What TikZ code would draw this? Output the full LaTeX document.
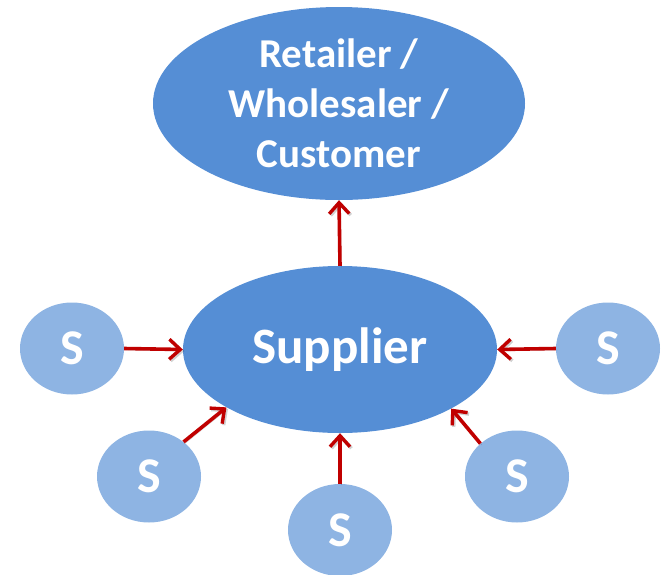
\documentclass[tikz,border=0pt]{standalone}
\usepackage{fontspec}
\setmainfont{Carlito}
\usetikzlibrary{arrows.meta,shapes.geometric}
\definecolor{bigblue}{HTML}{558ED5}
\definecolor{smallblue}{HTML}{8EB4E3}
\definecolor{arrowred}{HTML}{C00000}
\tikzset{
  bignode/.style={ellipse, fill=bigblue, inner sep=0pt, text=white, font=\bfseries},
  snode/.style={ellipse, fill=smallblue, minimum width=104pt, minimum height=92pt, inner sep=0pt, text=white, font=\bfseries\fontsize{50}{50}\selectfont},
  flow/.style={draw=arrowred, line width=3.6pt, -{Straight Barb[length=11pt,width=20pt,line width=3.4pt]},
    preaction={draw=black, draw opacity=0.18, transform canvas={xshift=1.5pt,yshift=-1.5pt}}}
}
\begin{document}
\begin{tikzpicture}[x=1pt,y=-1pt]
\useasboundingbox (0,0) rectangle (664,574);
\node[bignode, minimum width=372pt, minimum height=193pt, align=center, font=\bfseries\fontsize{41}{50}\selectfont] (ret) at (339,103.5) {Retailer /\\Wholesaler /\\Customer};
\node[bignode, minimum width=314pt, minimum height=167pt, font=\bfseries\fontsize{51}{51}\selectfont] (sup) at (340,349.5) {Supplier};
\node[snode] (s1) at (72,348.5) {S};
\node[snode] (s2) at (149,476.5) {S};
\node[snode] (s3) at (340,530) {S};
\node[snode] (s4) at (517,476.5) {S};
\node[snode] (s5) at (608,348.5) {S};
\draw[flow] (sup.north) -- (ret.south);
\draw[flow] (s1.east) -- (sup.west);
\draw[flow] (s5.west) -- (sup.east);
\draw[flow] (s3.north) -- (sup.south);
\draw[flow] (s2.45) -- (sup.207);
\draw[flow] (s4.138) -- (sup.332);
\end{tikzpicture}
\end{document}
